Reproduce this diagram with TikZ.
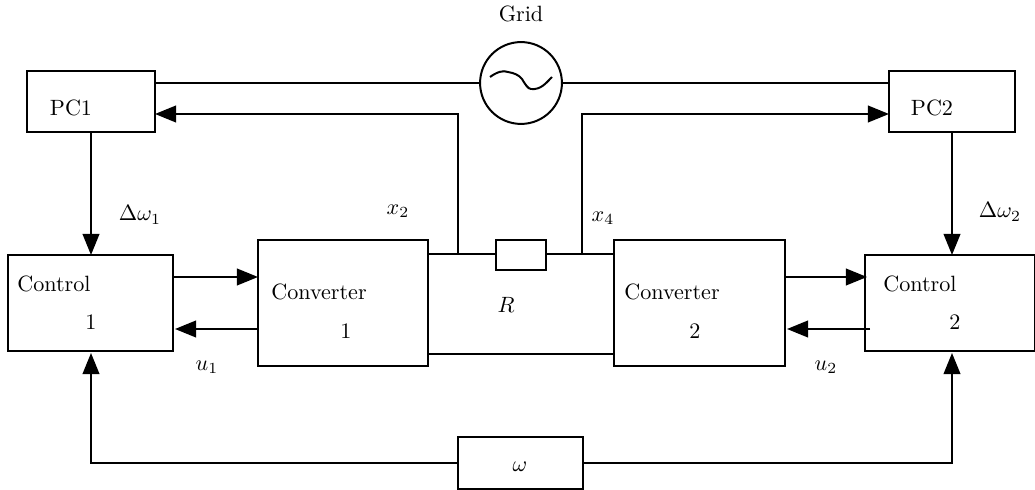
\documentclass[tikz,border=0pt]{standalone}
\usepackage{tikz}
\usetikzlibrary{positioning}
\usetikzlibrary{arrows.meta}
\usetikzlibrary{calc}
\tikzstyle{blockbox}=[rectangle,draw,line width=0.9pt,inner sep=0pt,outer sep=0pt]
\tikzstyle{source}=[circle,draw,line width=0.9pt,minimum size=37pt,inner sep=0pt,outer sep=0pt]
\tikzstyle{edge} = [draw,line width=0.9pt,-{Triangle[length=9.5pt,width=7.5pt]}]
\tikzstyle{undirectededge} = [draw,line width=0.9pt]
\tikzstyle{label} = [inner sep=0pt]

\begin{document}
\begin{tikzpicture}[x=0.452pt,y=-0.452pt]
    \def\u{0.452pt};
    \useasboundingbox (0,0) rectangle (1035,490);

    % First we draw the blocks
    \foreach \pos/\name/\w/\h in {{(91,101.5)/PC1/128/61}, {(952,101.5)/PC2/126/61}, {(90.5,303)/Ctrl1/165/96}, {(950,303)/Ctrl2/170/96}, {(343,303)/Conv1/170/126}, {(699.5,303)/Conv2/171/126}, {(521,255)/Rbox/50/30}, {(520.5,463)/Wbox/125/52}}
        \node[blockbox,minimum width=\w*\u,minimum height=\h*\u] (\name) at \pos {};

    \node[source] (Grid) at (521,83) {};
    \draw[line width=0.9pt] (490,77) .. controls (497,72) and (503,70) .. (508,72) .. controls (514,73) and (519,75) .. (522,79) .. controls (525,84) and (528,89) .. (531,89) .. controls (541,90) and (546,83) .. (552,77);

    % Tap points on the lines
    \coordinate (x2) at (458,254);
    \coordinate (x4) at (582,254);
    \coordinate (low1) at (428,354);
    \coordinate (low2) at (614,354);
    \coordinate (in1) at (91,114);
    \coordinate (a1) at (173,277);
    \coordinate (a2) at (258,277);
    \coordinate (b1) at (258,329);
    \coordinate (b2) at (175,329);
    \coordinate (c1) at (785,277);
    \coordinate (c2) at (867,277);
    \coordinate (d1) at (870,329);
    \coordinate (d2) at (787,329);

    % Connect the blocks
    \path[undirectededge] (Grid.west) -- (Grid.west -| PC1.east);
    \path[undirectededge] (Grid.east) -- (Grid.east -| PC2.west);
    \path[undirectededge] (x2 -| Conv1.east) -- (x2 -| Rbox.west);
    \path[undirectededge] (x4 -| Rbox.east) -- (x4 -| Conv2.west);
    \path[undirectededge] (low1) -- (low2);
    \path[edge] (x2) |- (in1 -| PC1.east);
    \path[edge] (x4) |- (in1 -| PC2.west);
    \path[edge] (PC1.south) -- (PC1.south |- Ctrl1.north);
    \path[edge] (PC2.south) -- (PC2.south |- Ctrl2.north);
    \path[edge] (a1) -- (a2);
    \path[edge] (b1) -- (b2);
    \path[edge] (c1) -- (c2);
    \path[edge] (d1) -- (d2);
    \path[edge] (Wbox.west) -| ($(PC1.south |- Ctrl1.south)+(0,2)$);
    \path[edge] (Wbox.east) -| ($(PC2.south |- Ctrl2.south)+(0,2)$);

    % Labels
    \foreach \pos/\name/\label in {{(521,14)/lgrid/Grid}, {(71,108)/lpc1/PC1}, {(932,108)/lpc2/PC2}, {(54,284)/lctrl1/Control}, {(91,322)/lone1/1}, {(920,284)/lctrl2/Control}, {(955,322)/ltwo1/2}, {(319,292)/lconv1/Converter}, {(346,331)/lone2/1}, {(672,292)/lconv2/Converter}, {(695,331)/ltwo2/2}}
        \node[label] (\name) at \pos {\label};
    \foreach \pos/\name/\label in {{(140,215)/ldw1/\Delta\omega_1}, {(1000,212)/ldw2/\Delta\omega_2}, {(398,211)/lx2/x_2}, {(603,218)/lx4/x_4}, {(506,305)/lr/R}, {(207,367)/lu1/u_1}, {(826,367)/lu2/u_2}, {(520,467)/lw/\omega}}
        \node[label] (\name) at \pos {$\label$};
\end{tikzpicture}
\end{document}
